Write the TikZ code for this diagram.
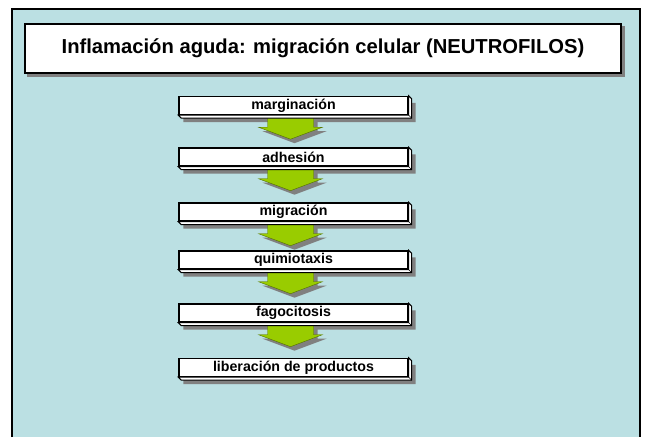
\documentclass[tikz,border=0pt]{standalone}
\usepackage{fontspec}
\setmainfont{Liberation Sans}
\usetikzlibrary{calc}
\pgfdeclarelayer{background}
\pgfdeclarelayer{mid}
\pgfsetlayers{background,mid,main}

\definecolor{fondo}{RGB}{187,224,227}
\definecolor{verde}{RGB}{153,204,0}
\definecolor{sombra}{RGB}{128,128,128}

\tikzset{
  titulo/.style={draw=black, line width=1.6pt, fill=white, minimum width=596pt,
    minimum height=49pt, inner sep=0pt, font=\fontsize{20.2}{24}\selectfont\bfseries},
  paso/.style={draw=black, line width=1.4pt, fill=white, minimum width=229pt,
    minimum height=18pt, inner sep=0pt, font=\fontsize{14.2}{16}\selectfont\bfseries},
  flechaverde/.style={fill=verde, draw=verde!55!black, line width=0.4pt},
}

% caja con relieve y sombra
\newcommand{\relieve}[1]{
  \begin{pgfonlayer}{background}
    \fill[sombra] ($(#1.south west)+(5,0)$) |- ($(#1.south east)+(7,7)$)
      |- ($(#1.north east)+(0,7)$) -- cycle;
  \end{pgfonlayer}
  \filldraw[fill=white, line width=1pt] (#1.south west) -- ++(3,3)
    -- ($(#1.south east)+(3,3)$) -- ($(#1.north east)+(3,3)$)
    -- (#1.north east) -- (#1.south east) -- cycle;
  \draw[line width=0.6pt] (#1.south east) -- ++(3,3);
}

% flecha de bloque entre pasos
\newcommand{\flecha}[1]{
  \begin{pgfonlayer}{background}
    \fill[sombra] ($(#1.south)+(-26+4,4)$) -- ++(46,0) -- ++(0,12) -- ++(9,0)
      -- ++(-32,12) -- ++(-32,-12) -- ++(9,0) -- cycle;
  \end{pgfonlayer}
  \begin{pgfonlayer}{mid}
    \filldraw[flechaverde] ($(#1.south)+(-26,0)$) -- ++(46,0) -- ++(0,12) -- ++(9,0)
      -- ++(-32,12) -- ++(-32,-12) -- ++(9,0) -- cycle;
  \end{pgfonlayer}
}

\begin{document}
\begin{tikzpicture}[x=1pt, y=-1pt]
  \useasboundingbox (0,0) rectangle (646,437);

  \begin{pgfonlayer}{background}
    \fill[fondo] (12,9) rectangle (640,437);
    \draw[line width=1.6pt] (12,437) -- (12,9) -- (640,9) -- (640,437);
  \end{pgfonlayer}

  % titulo
  \begin{pgfonlayer}{background}
    \fill[sombra] (27,26) rectangle (625,77);
  \end{pgfonlayer}
  \node[titulo] (tit) at (323,48.5) {Inflamación aguda: migración celular (NEUTROFILOS)};

  % pasos
  \node[paso] (marg) at (293.5,105.5) {marginación};
  \node[paso] (adhe) at (293.5,157) {adhesión};
  \node[paso] (migr) at (293.5,212) {migración};
  \node[paso] (quim) at (293.5,260) {quimiotaxis};
  \node[paso] (fago) at (293.5,313) {fagocitosis};
  \node[paso] (libe) at (293.5,367.5) {liberación de productos};

  \foreach \c in {marg,adhe,migr,quim,fago,libe}
    \relieve{\c};

  \foreach \c in {marg,adhe,migr,quim,fago}
    \flecha{\c};
\end{tikzpicture}
\end{document}
